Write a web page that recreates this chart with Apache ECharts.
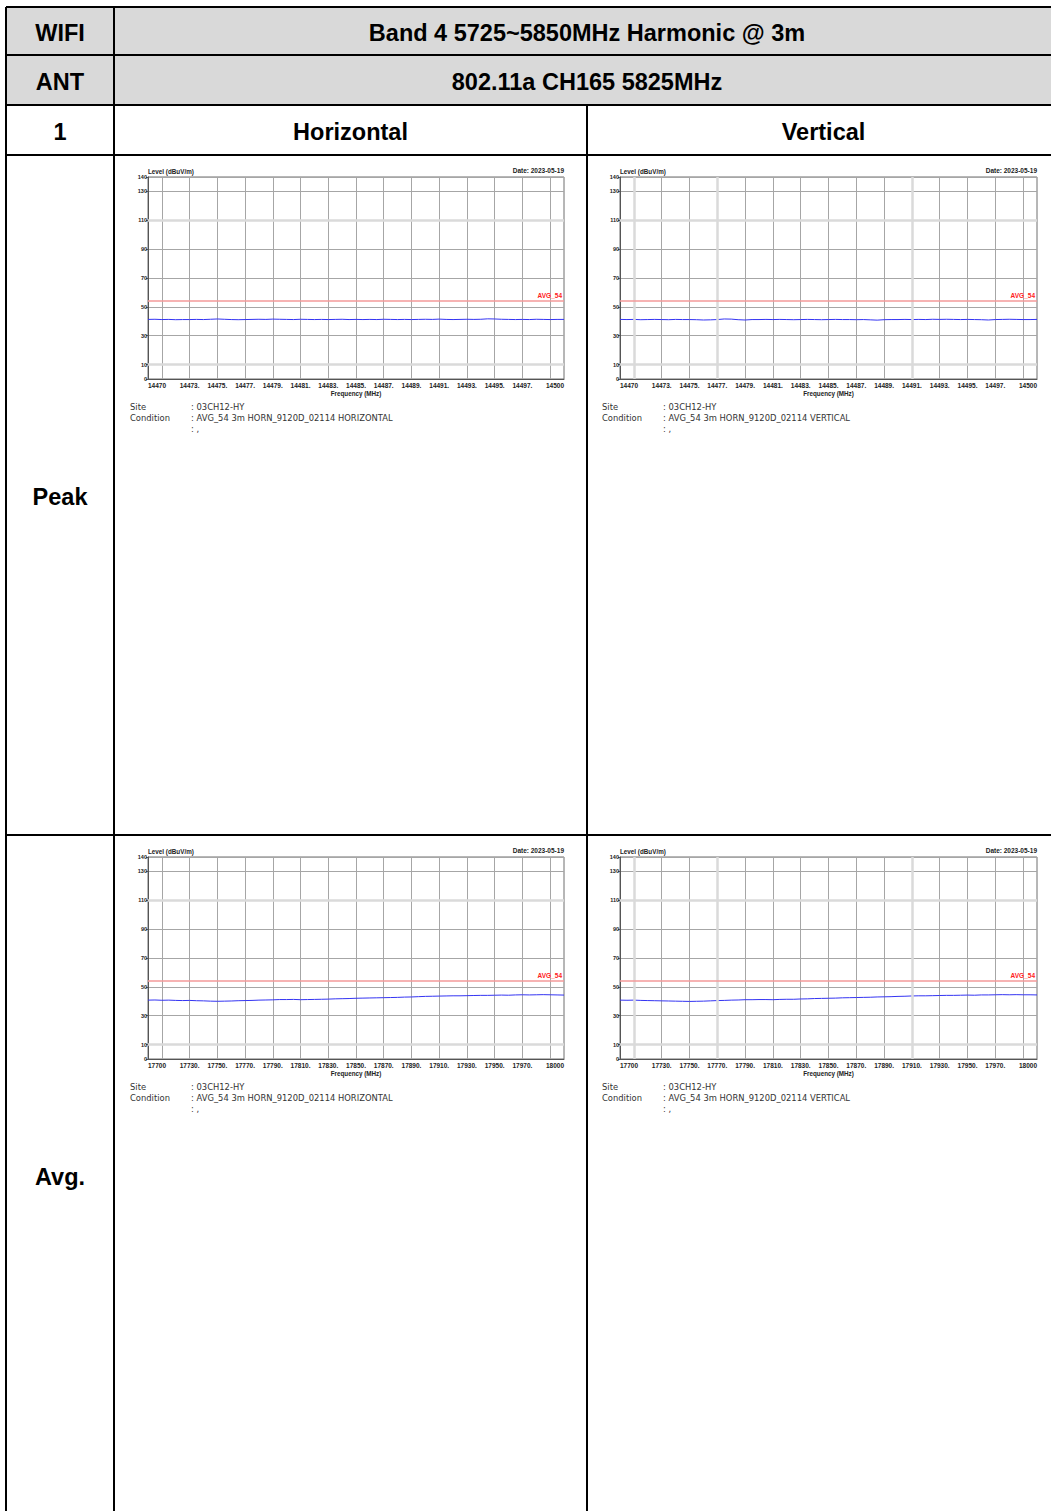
<!DOCTYPE html>
<html>
<head>
<meta charset="utf-8">
<title>Band 4 Harmonic @ 3m</title>
<script src="https://cdn.jsdelivr.net/npm/echarts@6/dist/echarts.min.js"></script>
<style>
  html, body { margin: 0; padding: 0; background: #ffffff; }
  #main { width: 1051px; height: 1511px; }
</style>
</head>
<body>
<div id="main"></div>
<script>
// ---- table text ----
const headerMode = 'WIFI';
const headerBand = 'Band 4 5725~5850MHz Harmonic @ 3m';
const headerAnt = 'ANT';
const headerChannel = '802.11a CH165 5825MHz';
const headerIndex = '1';
const polarisations = ['Horizontal', 'Vertical'];
const detectors = ['Peak', 'Avg.'];
const testDate = 'Date: 2023-05-19';
const siteName = '03CH12-HY';
const conditions = ['AVG_54 3m HORN_9120D_02114 HORIZONTAL', 'AVG_54 3m HORN_9120D_02114 VERTICAL'];

// ---- axes ----
const yMin = 0, yMax = 140;
const yTickValues = [0, 10, 30, 50, 70, 90, 110, 130, 140];
const limitValue = 54;
const limitName = 'AVG_54';

const peakRange = [14470, 14500];
const peakTickValues = [14471, 14473, 14475, 14477, 14479, 14481, 14483, 14485, 14487, 14489, 14491, 14493, 14495, 14497, 14499];
const peakLabelValues = [14470, 14473, 14475, 14477, 14479, 14481, 14483, 14485, 14487, 14489, 14491, 14493, 14495, 14497, 14500];
const peakLabelTexts = ['14470', '14473.', '14475.', '14477.', '14479.', '14481.', '14483.', '14485.', '14487.', '14489.', '14491.', '14493.', '14495.', '14497.', '14500'];

const avgRange = [17700, 18000];
const avgTickValues = [17710, 17730, 17750, 17770, 17790, 17810, 17830, 17850, 17870, 17890, 17910, 17930, 17950, 17970, 17990];
const avgLabelValues = [17700, 17730, 17750, 17770, 17790, 17810, 17830, 17850, 17870, 17890, 17910, 17930, 17950, 17970, 18000];
const avgLabelTexts = ['17700', '17730.', '17750.', '17770.', '17790.', '17810.', '17830.', '17850.', '17870.', '17890.', '17910.', '17930.', '17950.', '17970.', '18000'];

// ---- measured traces (dBuV/m) ----
const peakFreq = [
  14470, 14470.5, 14471, 14471.5, 14472, 14472.5, 14473, 14473.5, 14474, 14474.5,
  14475, 14475.5, 14476, 14476.5, 14477, 14477.5, 14478, 14478.5, 14479, 14479.5,
  14480, 14480.5, 14481, 14481.5, 14482, 14482.5, 14483, 14483.5, 14484, 14484.5,
  14485, 14485.5, 14486, 14486.5, 14487, 14487.5, 14488, 14488.5, 14489, 14489.5,
  14490, 14490.5, 14491, 14491.5, 14492, 14492.5, 14493, 14493.5, 14494, 14494.5,
  14495, 14495.5, 14496, 14496.5, 14497, 14497.5, 14498, 14498.5, 14499, 14499.5,
  14500
];
const peakLevelH = [
  41.3, 41.4, 41.2, 41.3, 41.1, 41.2, 41.2, 41.3, 41.2, 41.4,
  41.6, 41.4, 41.2, 41.1, 41.2, 41.3, 41.4, 41.3, 41.5, 41.4,
  41.3, 41.2, 41.4, 41.3, 41.2, 41.3, 41.2, 41.3, 41.4, 41.2,
  41.3, 41.2, 41.3, 41.2, 41.4, 41.3, 41.2, 41.3, 41.2, 41.3,
  41.4, 41.3, 41.5, 41.3, 41.2, 41.3, 41.4, 41.3, 41.4, 41.7,
  41.6, 41.4, 41.3, 41.2, 41.3, 41.2, 41.4, 41.3, 41.2, 41.3,
  41.3
];
const peakLevelV = [
  41.3, 41.2, 41.3, 41.1, 41.2, 41.3, 41.2, 41.1, 41.3, 41.2,
  41.2, 41.1, 40.9, 41.0, 41.2, 41.6, 41.5, 41.1, 40.9, 41.2,
  41.2, 41.3, 41.2, 41.3, 41.2, 41.1, 41.2, 41.3, 41.2, 41.1,
  41.2, 41.3, 41.2, 41.2, 41.1, 41.2, 41.0, 40.8, 41.1, 41.2,
  41.2, 41.3, 41.2, 41.3, 41.2, 41.4, 41.3, 41.4, 41.3, 41.2,
  41.3, 41.2, 41.1, 40.9, 41.2, 41.3, 41.4, 41.3, 41.2, 41.2,
  41.3
];

const avgFreq = [
  17700, 17705, 17710, 17715, 17720, 17725, 17730, 17735, 17740, 17745,
  17750, 17755, 17760, 17765, 17770, 17775, 17780, 17785, 17790, 17795,
  17800, 17805, 17810, 17815, 17820, 17825, 17830, 17835, 17840, 17845,
  17850, 17855, 17860, 17865, 17870, 17875, 17880, 17885, 17890, 17895,
  17900, 17905, 17910, 17915, 17920, 17925, 17930, 17935, 17940, 17945,
  17950, 17955, 17960, 17965, 17970, 17975, 17980, 17985, 17990, 17995,
  18000
];
const avgLevelH = [
  40.8, 40.9, 40.7, 40.8, 40.6, 40.5, 40.6, 40.4, 40.3, 40.1,
  40.0, 40.1, 40.2, 40.4, 40.5, 40.6, 40.8, 40.9, 41.0, 41.2,
  41.2, 41.3, 41.1, 41.2, 41.3, 41.4, 41.5, 41.7, 41.8, 41.9,
  42.1, 42.2, 42.3, 42.4, 42.5, 42.6, 42.7, 42.9, 43.0, 43.2,
  43.4, 43.5, 43.6, 43.7, 43.8, 43.8, 43.9, 44.0, 44.1, 44.1,
  44.2, 44.3, 44.2, 44.4, 44.5, 44.4, 44.5, 44.6, 44.5, 44.4,
  44.3
];
const avgLevelV = [
  40.8, 40.7, 40.8, 40.6, 40.5, 40.4, 40.3, 40.2, 40.1, 40.0,
  39.9, 40.0, 40.1, 40.3, 40.5, 40.6, 40.8, 40.9, 41.1, 41.1,
  41.2, 41.2, 41.1, 41.3, 41.4, 41.4, 41.6, 41.7, 41.9, 42.0,
  42.1, 42.2, 42.4, 42.5, 42.6, 42.7, 42.8, 43.0, 43.1, 43.2,
  43.4, 43.5, 43.7, 43.8, 43.8, 43.9, 44.0, 44.1, 44.1, 44.2,
  44.3, 44.2, 44.4, 44.4, 44.5, 44.6, 44.5, 44.6, 44.5, 44.5,
  44.4
];

// ---- layout ----
const COL = [6, 114, 587, 1060];
const ROW = [7, 55, 105, 155, 835, 1516];
const PLOT_W = [416, 417];
const PLOT_LEFT = [148, 620];
const PLOT_TOP = [177, 857];
const PLOT_H = 202;

const LABEL_FONT = '"Liberation Sans", Arial, sans-serif';
const INFO_FONT = '"DejaVu Sans", Verdana, sans-serif';
const GRID_COLOR = '#a6a6a6';
const SOFT_COLOR = '#dadada';

const panels = [
  { row: 0, col: 0, freq: peakFreq, level: peakLevelH, range: peakRange, ticks: peakTickValues, lv: peakLabelValues, lt: peakLabelTexts, softX: [] },
  { row: 0, col: 1, freq: peakFreq, level: peakLevelV, range: peakRange, ticks: peakTickValues, lv: peakLabelValues, lt: peakLabelTexts, softX: [0, 3, 10] },
  { row: 1, col: 0, freq: avgFreq, level: avgLevelH, range: avgRange, ticks: avgTickValues, lv: avgLabelValues, lt: avgLabelTexts, softX: [] },
  { row: 1, col: 1, freq: avgFreq, level: avgLevelV, range: avgRange, ticks: avgTickValues, lv: avgLabelValues, lt: avgLabelTexts, softX: [0, 3, 10] }
];
const softY = [1, 6]; // indexes into yTickValues

const grid = [], xAxis = [], yAxis = [], series = [], graphic = [];

panels.forEach((p, i) => {
  grid.push({
    left: PLOT_LEFT[p.col], top: PLOT_TOP[p.row], width: PLOT_W[p.col], height: PLOT_H,
    show: true, borderColor: '#6e6e6e', borderWidth: 1, backgroundColor: '#ffffff'
  });
  xAxis.push({
    type: 'value', gridIndex: i, min: p.range[0], max: p.range[1],
    name: 'Frequency (MHz)', nameLocation: 'middle', nameGap: 11,
    nameTextStyle: { fontFamily: LABEL_FONT, fontWeight: 'bold', fontSize: 6.3, color: '#222' },
    axisLine: { show: true, lineStyle: { color: '#555', width: 1 } },
    axisTick: { show: false, customValues: p.ticks },
    axisLabel: {
      customValues: p.lv, margin: 3, fontFamily: LABEL_FONT, fontWeight: 'bold', fontSize: 6.5, color: '#222',
      alignMinLabel: 'left', alignMaxLabel: 'right',
      formatter: v => p.lt[p.lv.indexOf(v)]
    },
    splitLine: {
      show: true,
      lineStyle: { width: 1, color: p.ticks.map((t, k) => p.softX.includes(k) ? SOFT_COLOR : GRID_COLOR) }
    }
  });
  yAxis.push({
    type: 'value', gridIndex: i, min: yMin, max: yMax,
    name: 'Level (dBuV/m)', nameLocation: 'end', nameGap: 1.5,
    nameTextStyle: { fontFamily: LABEL_FONT, fontWeight: 'bold', fontSize: 6.3, color: '#222', align: 'left', verticalAlign: 'bottom' },
    axisLine: { show: true, lineStyle: { color: '#555', width: 1 } },
    axisTick: { show: true, length: 2, customValues: yTickValues, lineStyle: { color: '#555' } },
    axisLabel: { customValues: yTickValues, margin: 1, fontFamily: LABEL_FONT, fontWeight: 'bold', fontSize: 5.5, color: '#222' },
    splitLine: {
      show: true,
      lineStyle: { width: 1, color: yTickValues.map((t, k) => softY.includes(k) ? SOFT_COLOR : GRID_COLOR) }
    }
  });

  // widened pale grid lines
  const softData = softY.map(k => ({ yAxis: yTickValues[k] }))
    .concat(p.softX.map(k => ({ xAxis: p.ticks[k] })));
  series.push({
    type: 'line', xAxisIndex: i, yAxisIndex: i, data: [], z: 1, silent: true,
    markLine: {
      silent: true, symbol: 'none', animation: false, label: { show: false },
      lineStyle: { type: 'solid', color: SOFT_COLOR, width: 2.5 },
      data: softData
    }
  });

  // measured level with the limit line
  series.push({
    type: 'line', xAxisIndex: i, yAxisIndex: i, z: 3,
    data: p.freq.map((f, k) => [f, p.level[k]]),
    showSymbol: false, symbol: 'none', animation: false, silent: true,
    lineStyle: { color: '#3434f2', width: 1 },
    markLine: {
      silent: true, symbol: 'none', animation: false,
      lineStyle: { type: 'solid', color: '#f39a9a', width: 1.6 },
      label: {
        show: true, position: 'insideEndTop', distance: [2, 2], formatter: limitName,
        fontFamily: LABEL_FONT, fontWeight: 'bold', fontSize: 6.5, color: '#ff2020'
      },
      data: [{ yAxis: limitValue }]
    }
  });

  // date stamp and test information under each plot
  const gx = PLOT_LEFT[p.col], gy = PLOT_TOP[p.row];
  graphic.push({
    type: 'text', x: gx + PLOT_W[p.col], y: gy - 6.5,
    style: { text: testDate, font: 'bold 6.5px ' + LABEL_FONT, fill: '#222', textAlign: 'right', textVerticalAlign: 'middle' }
  });
  const infoRows = [['Site', ': ' + siteName], ['Condition', ': ' + conditions[p.col]], ['', ': ,']];
  infoRows.forEach((r, k) => {
    const ty = gy + 230 + k * 11;
    if (r[0]) graphic.push({ type: 'text', x: gx - 18, y: ty, style: { text: r[0], font: '8.4px ' + INFO_FONT, fill: '#333', textVerticalAlign: 'middle' } });
    graphic.push({ type: 'text', x: gx + 43, y: ty, style: { text: r[1], font: '8.4px ' + INFO_FONT, fill: '#333', textVerticalAlign: 'middle' } });
  });
});

// ---- table frame ----
const HEAD_FONT = 'bold 23.5px ' + LABEL_FONT;
graphic.unshift({ type: 'rect', z: -10, shape: { x: COL[0], y: ROW[0], width: COL[3] - COL[0], height: ROW[2] - ROW[0] }, style: { fill: '#d9d9d9' } });
const lineStyle = { stroke: '#000', lineWidth: 2 };
[0, 1, 2, 3, 4].forEach(r => graphic.push({ type: 'line', z: 10, shape: { x1: COL[0], y1: ROW[r], x2: COL[3], y2: ROW[r] }, style: lineStyle }));
graphic.push({ type: 'line', z: 10, shape: { x1: COL[0], y1: ROW[0], x2: COL[0], y2: ROW[5] }, style: lineStyle });
graphic.push({ type: 'line', z: 10, shape: { x1: COL[1], y1: ROW[0], x2: COL[1], y2: ROW[5] }, style: lineStyle });
graphic.push({ type: 'line', z: 10, shape: { x1: COL[2], y1: ROW[2], x2: COL[2], y2: ROW[5] }, style: lineStyle });

function cellText(text, x1, x2, y1, y2) {
  graphic.push({
    type: 'text', z: 10, x: (x1 + x2) / 2, y: (y1 + y2) / 2 + 1.5,
    style: { text: text, font: HEAD_FONT, fill: '#000', textAlign: 'center', textVerticalAlign: 'middle' }
  });
}
cellText(headerMode, COL[0], COL[1], ROW[0], ROW[1]);
cellText(headerBand, COL[1], COL[3], ROW[0], ROW[1]);
cellText(headerAnt, COL[0], COL[1], ROW[1], ROW[2]);
cellText(headerChannel, COL[1], COL[3], ROW[1], ROW[2]);
cellText(headerIndex, COL[0], COL[1], ROW[2], ROW[3]);
cellText(polarisations[0], COL[1], COL[2], ROW[2], ROW[3]);
cellText(polarisations[1], COL[2], COL[3], ROW[2], ROW[3]);
cellText(detectors[0], COL[0], COL[1], ROW[3], ROW[4]);
cellText(detectors[1], COL[0], COL[1], ROW[4], ROW[5]);

const chart = echarts.init(document.getElementById('main'), null, { renderer: 'svg' });
chart.setOption({
  backgroundColor: '#ffffff',
  animation: false,
  grid: grid,
  xAxis: xAxis,
  yAxis: yAxis,
  series: series,
  graphic: graphic
});
</script>
</body>
</html>
